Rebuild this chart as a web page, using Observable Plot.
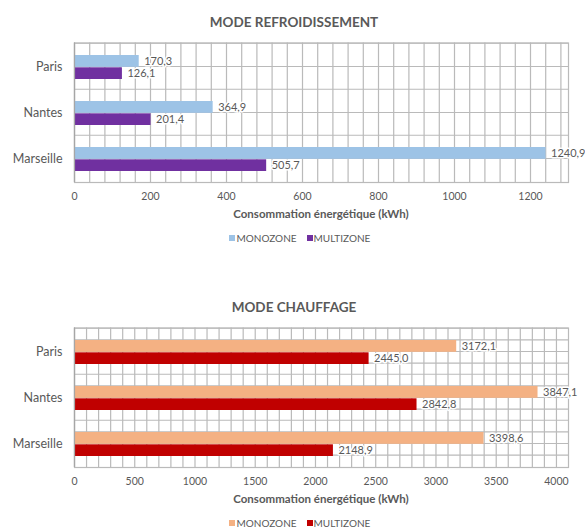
<!DOCTYPE html>
<html><head><meta charset="utf-8">
<script src="https://cdn.jsdelivr.net/npm/d3@7"></script>
<script src="https://cdn.jsdelivr.net/npm/@observablehq/plot@0.6"></script>
<style>
body{margin:0;background:#fff;}
#root{position:relative;width:585px;height:528px;font-family:Lato,"Liberation Sans",sans-serif;color:#595959;overflow:hidden;background:#fff}
.abs{position:absolute;white-space:nowrap}
.title{font-weight:bold;font-size:13.5px;line-height:16px;text-align:center;width:585px;left:1.5px}
.axt{font-weight:bold;font-size:11.5px;line-height:14px;text-align:center;left:74px;width:494px}
.leg{font-size:10px;line-height:12px}
.sw{position:absolute;width:6px;height:6px}
svg g[aria-label^="y-axis"] text{font-size:12.5px}
</style></head><body><div id="root"></div>
<script>
// ---- data ----
const cities = ["Paris", "Nantes", "Marseille"];
const seriesNames = ["MONOZONE", "MULTIZONE"];
const refroidMono = [170.3, 364.9, 1240.9];
const refroidMulti = [126.1, 201.4, 505.7];
const chauffMono = [3172.1, 3847.1, 3398.6];
const chauffMulti = [2445.0, 2842.8, 2148.9];
const refroidTicks = [0, 200, 400, 600, 800, 1000, 1200];
const chauffTicks = [0, 500, 1000, 1500, 2000, 2500, 3000, 3500, 4000];
const titles = ["MODE REFROIDISSEMENT", "MODE CHAUFFAGE"];
const axisTitle = "Consommation énergétique (kWh)";
const refroidColors = ["#9DC3E6", "#7030A0"];
const chauffColors = ["#F4B183", "#C00000"];

const root = document.getElementById("root");
const fmt = v => v.toFixed(1).replace(".", ",");
const GRID = "#bababa";

function el(cls, css, text) {
  const d = document.createElement("div");
  d.className = cls;
  Object.assign(d.style, css);
  if (text != null) d.textContent = text;
  root.appendChild(d);
  return d;
}

function chart(top, title, mono, multi, colors, xMax, ticks, gridStep, quarter) {
  const H = 215, mT = 42.5, mB = 33;
  const bw = (H - mT - mB) / cities.length;
  const rows = cities.map((c, i) => ({city: c, mono: mono[i], multi: multi[i]}));
  const hOffsets = quarter ? [-bw / 2, -bw / 4, 0, bw / 4] : [-bw / 2, 0];
  const svg = Plot.plot({
    width: 585, height: H,
    marginTop: mT, marginBottom: mB, marginLeft: 74, marginRight: 17,
    style: {color: "#595959", fontFamily: "Lato, 'Liberation Sans', sans-serif", fontSize: "10.5px", background: "transparent", overflow: "visible"},
    x: {domain: [0, xMax], ticks, tickSize: 0, tickPadding: 10.5, tickFormat: d => String(d), label: null},
    y: {domain: cities, padding: 0, tickSize: 0, tickPadding: 12, label: null},
    marks: [
      Plot.ruleX(d3.range(0, xMax, gridStep), {stroke: GRID, strokeWidth: 1.2}),
      ...hOffsets.map(dy => Plot.ruleY(cities, {dy, stroke: GRID, strokeWidth: 1.2})),
      Plot.frame({stroke: GRID, strokeWidth: 1.2}),
      Plot.barX(rows, {y: "city", x: "mono", fill: colors[0], insetTop: 12, insetBottom: 22.2}),
      Plot.barX(rows, {y: "city", x: "multi", fill: colors[1], insetTop: 24.3, insetBottom: 10}),
      Plot.ruleX([0], {stroke: "#a6a6a6", strokeWidth: 1.2}),
      Plot.text(rows, {y: "city", x: "mono", text: d => fmt(d.mono), dx: 5, dy: -5, textAnchor: "start", fill: "#595959", stroke: "white", strokeWidth: 3, fontSize: 11}),
      Plot.text(rows, {y: "city", x: "multi", text: d => fmt(d.multi), dx: 5, dy: 7, textAnchor: "start", fill: "#595959", stroke: "white", strokeWidth: 3, fontSize: 11})
    ]
  });
  const wrap = el("abs", {left: "0px", top: top + "px"});
  wrap.appendChild(svg);
  el("abs title", {top: (top + 13.5) + "px"}, title);
  el("abs axt", {top: (top + 207.3) + "px"}, axisTitle);
  const ly = top + 238.3;
  el("sw", {left: "229px", top: (ly - 3) + "px", background: colors[0]});
  el("abs leg", {left: "236.5px", top: (ly - 6) + "px"}, seriesNames[0]);
  el("sw", {left: "306.5px", top: (ly - 3) + "px", background: colors[1]});
  el("abs leg", {left: "313.5px", top: (ly - 6) + "px"}, seriesNames[1]);
}

chart(0, titles[0], refroidMono, refroidMulti, refroidColors, 1300, refroidTicks, 40, false);
chart(285, titles[1], chauffMono, chauffMulti, chauffColors, 4100, chauffTicks, 100, true);
</script></body></html>
